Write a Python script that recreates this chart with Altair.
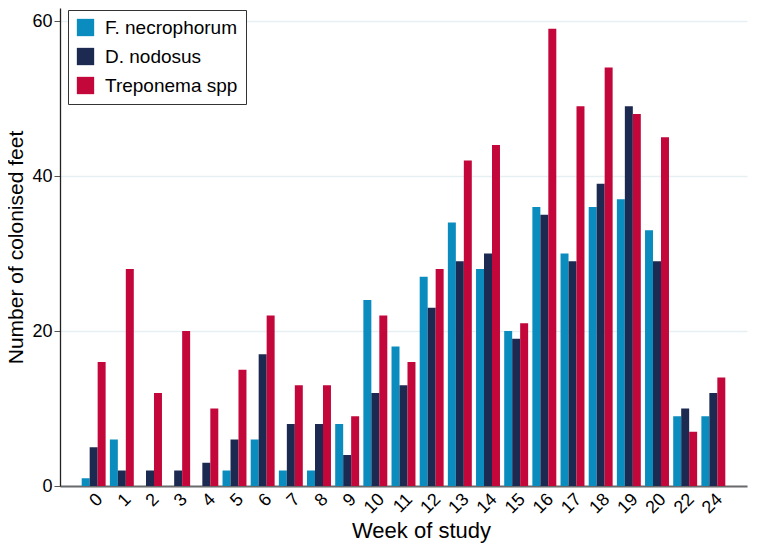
import altair as alt
import pandas as pd

weeks = ["0", "1", "2", "3", "4", "5", "6", "7", "8", "9", "10", "11", "12",
         "13", "14", "15", "16", "17", "18", "19", "20", "22", "24"]
f_necrophorum = [1, 6, 0, 0, 0, 2, 6, 2, 2, 8, 24, 18, 27, 34, 28, 20, 36, 30, 36, 37, 33, 9, 9]
d_nodosus = [5, 2, 2, 2, 3, 6, 17, 8, 8, 4, 12, 13, 23, 29, 30, 19, 35, 29, 39, 49, 29, 10, 12]
treponema = [16, 28, 12, 20, 10, 15, 22, 13, 13, 9, 22, 16, 28, 42, 44, 21, 59, 49, 54, 48, 45, 7, 14]

series_names = ["F. necrophorum", "D. nodosus", "Treponema spp"]
series_colors = ["#0a8cbf", "#1c2a52", "#c3073a"]

rows = []
for name, vals in zip(series_names, [f_necrophorum, d_nodosus, treponema]):
    for w, v in zip(weeks, vals):
        rows.append({"week": w, "series": name, "count": v})
df = pd.DataFrame(rows)

FONT = "Liberation Sans"

chart = alt.Chart(df).mark_bar().encode(
    x=alt.X("week:N", sort=weeks,
            scale=alt.Scale(paddingInner=0.15, paddingOuter=0.77),
            axis=alt.Axis(title="Week of study", labelAngle=-45, labelFontSize=18,
                          labelFont=FONT, titleFont=FONT, titleFontSize=22,
                          titleFontWeight="normal", ticks=False, labelPadding=4,
                          domainColor="#6a6a6a", domainWidth=2, titlePadding=4,
                          titleX=361, labelColor="#000", titleColor="#000")),
    xOffset=alt.XOffset("series:N", sort=series_names,
                        scale=alt.Scale(paddingInner=0, paddingOuter=0)),
    y=alt.Y("count:Q", scale=alt.Scale(domain=[0, 61.68], nice=False),
            axis=alt.Axis(title="Number of colonised feet", values=[0, 20, 40, 60],
                          labelFontSize=18, labelFont=FONT, titleFont=FONT,
                          titleFontSize=21, titleFontWeight="normal",
                          tickSize=6, tickColor="#555", labelPadding=2,
                          domainColor="#222", domainWidth=1.3, titlePadding=5,
                          grid=True, gridColor="#e6eff2", gridWidth=1.5,
                          labelColor="#000", titleColor="#000")),
    color=alt.Color("series:N", sort=series_names,
                    scale=alt.Scale(domain=series_names, range=series_colors),
                    legend=alt.Legend(title=None, orient="none", legendX=8, legendY=2,
                                      labelFontSize=19, labelFont=FONT, labelColor="#000",
                                      symbolType="square", symbolSize=300,
                                      symbolStrokeWidth=0, symbolOpacity=1,
                                      fillColor="white", strokeColor="#333",
                                      padding=8, rowPadding=9, labelOffset=10,
                                      cornerRadius=0)),
).properties(
    width=687, height=478,
    autosize=alt.AutoSizeParams(type="none"),
    padding={"left": 52, "top": 0, "right": 10, "bottom": 70},
).configure_view(stroke=None)

chart.save("out.html", embed_options={"renderer": "svg", "actions": False})
